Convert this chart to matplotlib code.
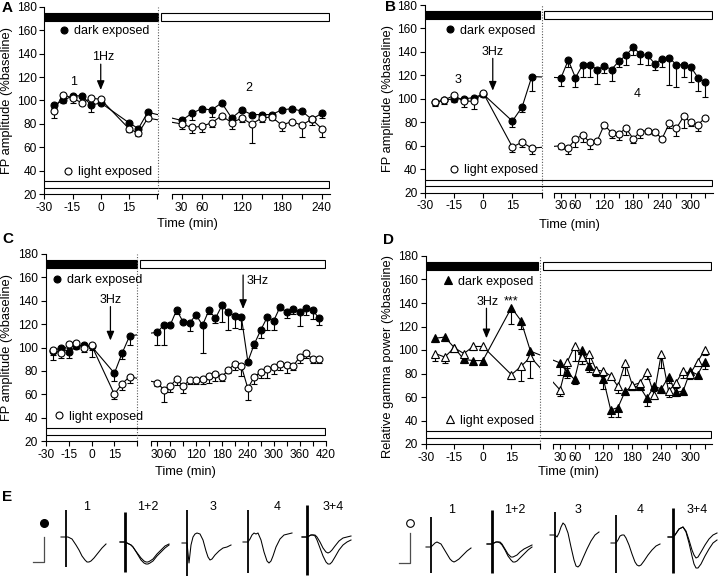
import numpy as np
import matplotlib
matplotlib.use('Agg')
import matplotlib.pyplot as plt
from matplotlib.patches import Rectangle
from matplotlib.lines import Line2D

plt.rcParams['font.family'] = ['Liberation Sans', 'DejaVu Sans']
plt.rcParams['font.size'] = 9

# ======================= DATA =======================
t_pre = [-25, -20, -15, -10, -5, 0, 15, 20, 25]

# Panel A (1 Hz)
A_t_post = [30, 45, 60, 75, 90, 105, 120, 135, 150, 165, 180, 195, 210, 225, 240]
A_dark_pre = [96, 100, 104, 104, 96, 98, 81, 76, 90]
A_dark_pre_err = [2, 2, 2, 2, 6, 2, 2, 2, 2]
A_light_pre = [91, 105, 102, 98, 102, 101, 76, 72, 85]
A_light_pre_err = [6, 2, 4, 2, 2, 2, 3, 2, 2]
A_dark_post = [83, 89, 93, 92, 98, 85, 92, 88, 88, 88, 92, 93, 91, 84, 89]
A_dark_post_err = [3, 6, 3, 6, 2, 2, 2, 2, 2, 2, 2, 2, 2, 2, 4]
A_light_post = [80, 77, 78, 81, 87, 81, 85, 80, 85, 86, 79, 82, 79, 84, 76]
A_light_post_err = [4, 5, 5, 4, 3, 5, 3, 16, 3, 3, 5, 2, 10, 5, 7]

# Panel B (3 Hz)
B_t_post = [30, 45, 60, 75, 90, 105, 120, 135, 150, 165, 180, 195, 210, 225, 240,
            255, 270, 285, 300, 315, 330]
B_dark_pre = [97, 99, 100, 100, 101, 104, 81, 93, 119]
B_dark_pre_err = [3, 3, 3, 2, 2, 2, 5, 4, 12]
B_light_pre = [97, 99, 103, 98, 98, 105, 59, 63, 58]
B_light_pre_err = [2, 2, 3, 5, 7, 2, 4, 4, 5]
B_dark_post = [118, 133, 118, 129, 129, 125, 128, 125, 132, 137, 144, 138, 137, 130,
               134, 135, 129, 129, 127, 118, 114]
B_dark_post_err = [7, 6, 8, 10, 10, 12, 6, 10, 5, 8, 7, 8, 8, 5, 7, 23, 19, 10, 13, 11, 12]
B_light_post = [60, 58, 66, 69, 63, 64, 78, 71, 70, 75, 66, 72, 73, 72, 66, 79, 75, 85,
                80, 78, 84]
B_light_post_err = [3, 5, 7, 6, 6, 0, 3, 4, 5, 6, 4, 5, 3, 3, 1, 4, 7, 10, 3, 5, 2]

# Panel C (3 Hz twice)
C_t_post = [30, 45, 60, 75, 90, 105, 120, 135, 150, 165, 180, 195, 210, 225, 240, 255,
            270, 285, 300, 315, 330, 345, 360, 375, 390, 405]
C_dark_pre = [97, 100, 96, 101, 102, 101, 78, 95, 110]
C_dark_pre_err = [3, 5, 5, 2, 3, 3, 7, 5, 8]
C_light_pre = [98, 95, 103, 104, 100, 102, 60, 69, 75]
C_light_pre_err = [9, 4, 3, 3, 4, 10, 4, 5, 5]
C_dark_post = [113, 119, 119, 132, 122, 121, 128, 119, 132, 125, 136, 130, 127, 126, 88,
               103, 115, 126, 123, 135, 130, 133, 130, 134, 132, 125]
C_dark_post_err = [11, 17, 0, 3, 0, 7, 0, 24, 3, 4, 14, 15, 10, 10, 0, 3, 7, 11, 8, 3,
                   5, 4, 12, 6, 8, 6]
C_light_post = [70, 64, 67, 73, 67, 72, 72, 73, 76, 77, 75, 81, 86, 84, 65, 75, 79, 82,
                83, 86, 85, 84, 92, 95, 90, 90]
C_light_post_err = [3, 11, 5, 5, 6, 3, 3, 4, 6, 6, 4, 3, 5, 8, 10, 6, 5, 8, 6, 5, 7, 3,
                    5, 4, 3, 3]

# Panel D (gamma power)
D_t_post = B_t_post
D_dark_pre = [110, 111, 102, 92, 91, 91, 136, 125, 99]
D_dark_pre_err = [3, 3, 3, 3, 4, 3, 14, 7, 3]
D_light_pre = [97, 94, 102, 97, 103, 103, 79, 86, 94]
D_light_pre_err = [6, 5, 3, 4, 3, 3, 4, 12, 18]
D_dark_post = [89, 81, 75, 100, 86, 82, 75, 49, 51, 65, 69, 69, 59, 69, 67, 77, 64, 65,
               82, 79, 90]
D_dark_post_err = [10, 5, 4, 12, 5, 4, 8, 6, 8, 3, 3, 3, 7, 4, 4, 5, 3, 3, 4, 3, 6]
D_light_post = [66, 90, 103, 94, 97, 83, 82, 78, 69, 89, 70, 72, 81, 62, 97, 65, 72, 82,
                80, 90, 100]
D_light_post_err = [5, 5, 12, 6, 8, 5, 4, 3, 6, 10, 4, 5, 6, 4, 12, 5, 4, 6, 5, 4, 4]

# Panel E example traces (deflection below baseline, sampled at E_t)
E_t = [-5, 0, 2, 4, 6, 8, 10, 13, 16, 19, 21, 23, 25, 28, 32, 36, 40, 44]
nan = np.nan
E_dark_1 = [0, 0, 0, 1, 2, 5, 8, 13, 19, 23, 25, 25, 24, 21, 16, 11, 7, nan]
E_dark_12a = [0, 0, 1, 2, 3, 5, 8, 12, 16, 19, 20, 20, 19, 17, 12, 8, 4, 2]
E_dark_12b = [0, 0, 1, 2, 3, 5, 8, 13, 18, 21, 22, 22, 21, 19, 14, 10, 6, 3]
E_dark_3 = [0, 0, 20, 2, -6, -9, -10, -9, -3, 8, 14, 17, 16, 12, 8, 5, 4, 2]
E_dark_4 = [0, 0, -3, -7, -9, -8, -9, -2, 10, 19, 21, 19, 14, 5, -3, -7, -8, -9]
E_dark_34a = [0, 0, -1, -2, -2, -2, 0, 5, 11, 15, 16, 15, 13, 9, 4, 1, 0, -1]
E_dark_34b = [0, 0, -1, -2, -2, -1, 3, 11, 19, 25, 27, 27, 25, 20, 13, 8, 5, 3]
E_light_1 = [0, 0, -2, -4, -5, -4, -3, 2, 7, 12, 14, 15, 14, 12, 8, 4, 1, nan]
E_light_12a = [0, 0, -1, -2, -2, -2, 0, 5, 10, 13, 13, 12, 11, 8, 5, 3, 1, nan]
E_light_12b = [0, 0, -1, -2, -2, -1, 1, 6, 12, 16, 18, 18, 17, 14, 10, 6, 3, nan]
E_light_3 = [0, 0, 2, -2, -8, -12, -10, -2, 12, 25, 31, 32, 30, 23, 14, 6, 0, -3]
E_light_4 = [0, 0, -3, -7, -8, -8, -5, 2, 11, 19, 22, 23, 22, 18, 12, 7, 3, 1]
E_light_34a = [0, 0, -2, -5, -8, -9, -10, -6, 3, 13, 18, 21, 20, 15, 8, 2, -2, -4]
E_light_34b = [0, 0, -2, -5, -8, -9, -10, -5, 6, 19, 27, 31, 31, 27, 19, 12, 6, 3]
E_labels = ['1', '1+2', '3', '4', '3+4']
E_art_dark = [(-27, 30), (-30, 30), (-33, 47), (-32, 31), (-32, 38)]
E_art_light = [(-30, 26), (-34, 29), (-23, 38), (-28, 30), (-29, 36)]

# ======================= FIGURE =======================
W, H = 720, 576
fig = plt.figure(figsize=(W / 100, H / 100), dpi=100)


def fx(px):
    return px / W


def fy(py):
    return 1 - py / H


LW = 0.8
TICK_FS = 8.6
LAB_FS = 9.3
MS_O = 5.0
MS_T = 5.6


def style_axes(ax, left_visible):
    ax.patch.set_visible(False)
    for s in ['top', 'right']:
        ax.spines[s].set_visible(False)
    ax.spines['left'].set_visible(left_visible)
    ax.spines['bottom'].set_linewidth(LW)
    ax.spines['left'].set_linewidth(LW)
    ax.tick_params(direction='out', length=3.5, width=LW, labelsize=TICK_FS, pad=2)
    if not left_visible:
        ax.tick_params(axis='y', left=False, labelleft=False)


def series(ax, t, y, err, filled, marker):
    t = np.asarray(t, float)
    y = np.asarray(y, float)
    err = np.asarray(err, float)
    ax.plot(t, y, color='k', lw=LW, zorder=2)
    ax.vlines(t, y - err, y, color='k', lw=LW, zorder=2)
    m = err > 0
    ax.plot(t[m], (y - err)[m], ls='none', marker='_', ms=4.5, mew=LW, color='k', zorder=2)
    ax.plot(t, y, ls='none', marker=marker, ms=MS_O if marker == 'o' else MS_T,
            mfc='k' if filled else 'w', mec='k', mew=LW, zorder=4 if not filled else 3)


def bridge(axL, axR, x1, y1, x2, y2):
    p1 = axL.transData.transform((x1, y1))
    p2 = axR.transData.transform((x2, y2))
    q2 = axL.transData.inverted().transform(p2)
    q1 = axR.transData.inverted().transform(p1)
    axL.plot([x1, q2[0]], [y1, q2[1]], color='k', lw=LW, zorder=2)
    axR.plot([q1[0], x2], [q1[1], y2], color='k', lw=LW, zorder=2)


def panel(ytop, ybot, L, Lx, R, Rx, Rticks, Rlabels, ylabel, div, black_end, white_start,
          xlabel_y, ylabel_xy, pre_sets, post_t, post_sets, marker):
    h = (ybot - ytop) / H
    axL = fig.add_axes([fx(L[0]), fy(ybot), (L[1] - L[0]) / W, h])
    axR = fig.add_axes([fx(R[0]), fy(ybot), (R[1] - R[0]) / W, h])
    for ax, lv in ((axL, True), (axR, False)):
        style_axes(ax, lv)
        ax.set_ylim(20, 180)
        ax.set_autoscale_on(False)
    axL.set_xlim(*Lx)
    axR.set_xlim(*Rx)
    axL.set_yticks(range(20, 181, 20))
    axL.set_xticks([-30, -15, 0, 15, 30])
    axL.set_xticklabels(['-30', '-15', '0', '15', ''])
    axR.set_xticks(Rticks)
    axR.set_xticklabels(Rlabels)
    for (pre_y, pre_e, filled), (post_y, post_e, _) in zip(pre_sets, post_sets):
        series(axL, t_pre, pre_y, pre_e, filled, marker)
        series(axR, post_t, post_y, post_e, filled, marker)
        bridge(axL, axR, t_pre[-1], pre_y[-1], post_t[0], post_y[0])
    # overlay for bars and the dotted divider
    ov = fig.add_axes([fx(L[0]), fy(ybot), (R[1] - L[0]) / W, h])
    ov.set_xlim(L[0], R[1])
    ov.set_ylim(20, 180)
    ov.axis('off')
    ov.add_patch(Rectangle((L[0], 168), black_end - L[0], 6.5, fc='k', ec='k', lw=LW))
    ov.add_patch(Rectangle((white_start, 168), R[1] - 1 - white_start, 6.5, fc='w', ec='k', lw=LW))
    ov.add_patch(Rectangle((L[0], 25.5), R[1] - 1 - L[0], 5.5, fc='w', ec='k', lw=LW))
    ov.plot([div, div], [20, 180], ls=(0, (1, 1.5)), color='0.35', lw=0.8)
    fig.text(fx((L[0] + R[1]) / 2), fy(xlabel_y), 'Time (min)', ha='center', va='center',
             fontsize=LAB_FS)
    fig.text(fx(ylabel_xy[0]), fy(ylabel_xy[1]), ylabel, rotation=90, ha='center',
             va='center', fontsize=LAB_FS)
    return axL, axR


def legend_at(px, py, label, filled, marker):
    h = Line2D([], [], ls='none', marker=marker, ms=MS_O if marker == 'o' else MS_T,
               mfc='k' if filled else 'w', mec='k', mew=LW)
    fig.legend(handles=[h], labels=[label], loc='center left',
               bbox_to_anchor=(fx(px - 3.8), fy(py)), bbox_transform=fig.transFigure,
               frameon=False, borderpad=0, borderaxespad=0, handlelength=0.6,
               handletextpad=0.5, fontsize=9)


def arrow(ax, x, y_tail, y_tip):
    ax.annotate('', xy=(x, y_tip), xytext=(x, y_tail),
                arrowprops=dict(arrowstyle='-|>,head_length=0.6,head_width=0.25',
                                color='k', lw=0.9, shrinkA=0, shrinkB=0), zorder=5)


FP = 'FP amplitude (%baseline)'

# ---- Panel A ----
aL, aR = panel(6.7, 194.3, (44.3, 158.3), (-30, 30.6), (171.7, 330), (15, 252.4),
               [15, 30, 60, 90, 120, 150, 180, 210, 240],
               ['', '30', '60', '', '120', '', '180', '', '240'], FP,
               158.3, 158.3, 161, 224, (7, 100),
               [(A_dark_pre, A_dark_pre_err, True), (A_light_pre, A_light_pre_err, False)],
               A_t_post,
               [(A_dark_post, A_dark_post_err, True), (A_light_post, A_light_post_err, False)],
               'o')
aL.text(-14.2, 116, '1', ha='center', va='center', fontsize=9)
aR.text(130, 111, '2', ha='center', va='center', fontsize=9)
aL.text(1.5, 137.5, '1Hz', ha='center', va='center', fontsize=9)
arrow(aL, 0, 131, 109)
legend_at(64, 31, 'dark exposed', True, 'o')
legend_at(68, 172, 'light exposed', False, 'o')

# ---- Panel B ----
bL, bR = panel(5, 192.7, (425, 541.5), (-30, 30), (554.3, 713), (16, 346),
               [16] + list(range(30, 331, 30)),
               ['', '30', '60', '', '120', '', '180', '', '240', '', '300', ''], FP,
               541.5, 540, 544, 225, (388, 99),
               [(B_dark_pre, B_dark_pre_err, True), (B_light_pre, B_light_pre_err, False)],
               B_t_post,
               [(B_dark_post, B_dark_post_err, True), (B_light_post, B_light_post_err, False)],
               'o')
bL.text(-12.9, 116, '3', ha='center', va='center', fontsize=9)
bR.text(188.5, 104, '4', ha='center', va='center', fontsize=9)
bL.text(4.8, 140.2, '3Hz', ha='center', va='center', fontsize=9)
arrow(bL, 4.9, 134.5, 107)
legend_at(450, 30.7, 'dark exposed', True, 'o')
legend_at(454, 170, 'light exposed', False, 'o')

# ---- Panel C ----
cL, cR = panel(254, 441, (45.7, 137.3), (-30, 29.8), (150.7, 326), (15, 421),
               [15] + list(range(30, 421, 30)),
               ['', '30', '60', '', '120', '', '180', '', '240', '', '300', '', '360', '', '420'],
               FP, 137.3, 136.7, 140, 472, (7, 347.5),
               [(C_dark_pre, C_dark_pre_err, True), (C_light_pre, C_light_pre_err, False)],
               C_t_post,
               [(C_dark_post, C_dark_post_err, True), (C_light_post, C_light_post_err, False)],
               'o')
cL.text(12.4, 140.6, '3Hz', ha='center', va='center', fontsize=9)
arrow(cL, 12.4, 135, 106)
cR.text(238, 157, '3Hz', ha='left', va='center', fontsize=9)
arrow(cR, 229, 162, 133)
legend_at(56.7, 280, 'dark exposed', True, 'o')
legend_at(59, 416.7, 'light exposed', False, 'o')

# ---- Panel D ----
dL, dR = panel(256, 444, (425.7, 540), (-30, 29.8), (553.3, 712), (16, 345),
               [16] + list(range(30, 331, 30)),
               ['', '30', '60', '', '120', '', '180', '', '240', '', '300', ''],
               'Relative gamma power (%baseline)', 540, 538, 543, 472, (388, 356),
               [(D_dark_pre, D_dark_pre_err, True), (D_light_pre, D_light_pre_err, False)],
               D_t_post,
               [(D_dark_post, D_dark_post_err, True), (D_light_post, D_light_post_err, False)],
               '^')
dL.text(2.3, 141, '3Hz', ha='center', va='center', fontsize=9)
dL.text(15, 141, '***', ha='center', va='center', fontsize=9)
arrow(dL, 1.9, 135.5, 110)
legend_at(448.3, 281.7, 'dark exposed', True, '^')
legend_at(450, 420.7, 'light exposed', False, '^')

# ---- panel letters ----
for s, x, y in [('A', 7, 8), ('B', 391, 7), ('C', 8, 239), ('D', 389, 240), ('E', 7, 497)]:
    fig.text(fx(x), fy(y), s, ha='center', va='center', fontsize=11, fontweight='bold')

# ---- Panel E ----
ev = fig.add_axes([0, 0, 1, 1])
ev.set_xlim(0, W)
ev.set_ylim(H, 0)
ev.axis('off')

dark_traces = [[E_dark_1], [E_dark_12a, E_dark_12b], [E_dark_3], [E_dark_4],
               [E_dark_34a, E_dark_34b]]
light_traces = [[E_light_1], [E_light_12a, E_light_12b], [E_light_3], [E_light_4],
                [E_light_34a, E_light_34b]]
dark_x0 = [66, 125, 187, 248, 307]
dark_base = [537, 542, 543, 542, 537]
dark_lab_x = [87, 148, 213, 277, 333]
light_x0 = [431, 492, 555, 616, 673]
light_base = [547, 544, 535, 543, 537]
light_lab_x = [452, 515, 578, 640, 697]

et = np.asarray(E_t, float)


def draw_traces(traces, x0s, bases, arts, lab_xs, lab_y):
    for trs, x0, b, (atop, abot), lx, lab in zip(traces, x0s, bases, arts, lab_xs, E_labels):
        for tr in trs:
            ev.plot(x0 + et, b + np.asarray(tr, float), color='k', lw=0.75)
        ev.plot([x0, x0], [b + atop, b + abot], color='k',
                lw=2.0 if len(trs) > 1 else 1.3, solid_capstyle='butt')
        ev.text(lx, lab_y, lab, ha='center', va='center', fontsize=9)


draw_traces(dark_traces, dark_x0, dark_base, E_art_dark, dark_lab_x, 507)
draw_traces(light_traces, light_x0, light_base, E_art_light, light_lab_x, 510)

# scale bars and group markers
ev.plot([44, 44, 33], [537, 562, 562], color='0.3', lw=0.9)
ev.plot([410, 410, 399], [533, 563, 563], color='0.3', lw=0.9)
ev.plot([44], [523], marker='o', ms=5.5, mfc='k', mec='k')
ev.plot([410], [523], marker='o', ms=5.5, mfc='w', mec='k', mew=0.8)

fig.savefig('out.png', dpi=100)
